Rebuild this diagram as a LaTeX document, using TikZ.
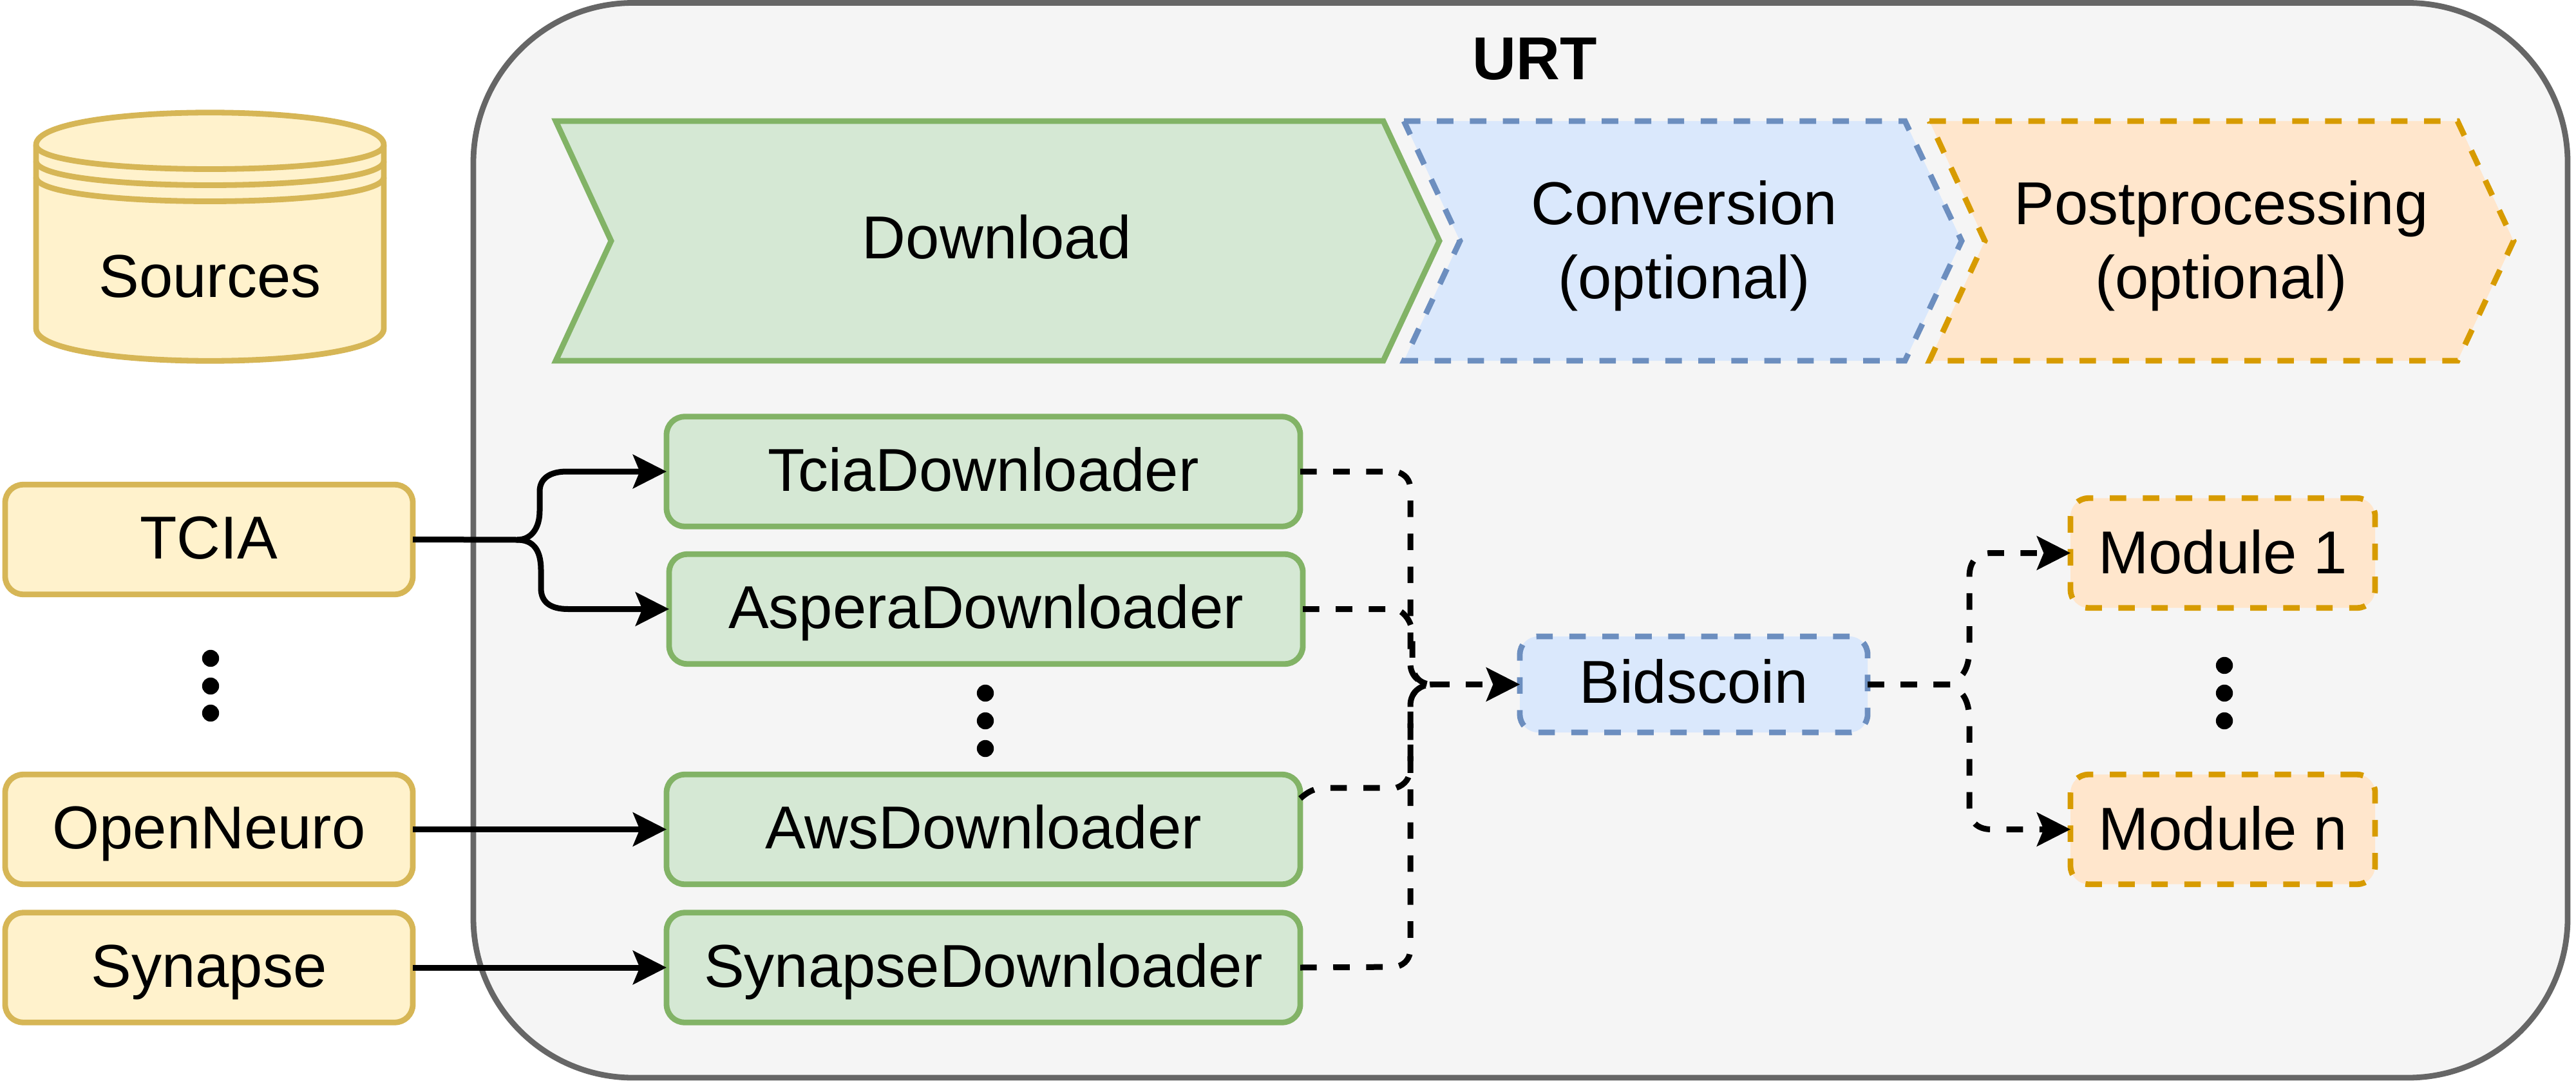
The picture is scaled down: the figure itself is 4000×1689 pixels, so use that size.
\documentclass[tikz,border=0pt]{standalone}
\usepackage{fontspec}
\setmainfont{Liberation Sans}
\usetikzlibrary{arrows.meta}
\definecolor{ylf}{HTML}{FFF2CC}\definecolor{yls}{HTML}{D6B656}
\definecolor{grf}{HTML}{D5E8D4}\definecolor{grs}{HTML}{82B366}
\definecolor{blf}{HTML}{DAE8FC}\definecolor{bls}{HTML}{6C8EBF}
\definecolor{orf}{HTML}{FFE6CC}\definecolor{ors}{HTML}{D79B00}
\definecolor{gyf}{HTML}{F5F5F5}\definecolor{gys}{HTML}{666666}
\tikzset{
 x=0.25pt,y=-0.25pt,
 every node/.style={font=\fontsize{23.5pt}{28.8pt}\selectfont,align=center,inner sep=0pt,outer sep=0pt},
 dsh/.style={dash pattern=on 6.4pt off 6.4pt},
 bx/.style={draw,line width=2.2pt,rounded corners=7pt,minimum height=42.6pt,text height=17pt,text depth=2pt},
 src/.style={bx,fill=ylf,draw=yls,minimum width=158.25pt},
 dl/.style={bx,fill=grf,draw=grs,minimum width=246pt},
 bd/.style={bx,fill=blf,draw=bls,dsh,minimum width=135pt,minimum height=37.25pt,text height=16.5pt,text depth=2.2pt},
 md/.style={bx,fill=orf,draw=ors,dsh,minimum width=118.25pt,text height=18pt,text depth=2pt},
 shp/.style={line width=2.2pt},
 arr/.style={line width=2.25pt,-{Stealth[length=13pt,width=13pt,inset=2.6pt]}},
 arrd/.style={arr,dsh},
 ln/.style={line width=2.25pt},
 lnd/.style={ln,dsh},
 dotm/.style={circle,fill=black,minimum size=6.6pt}
}
\begin{document}
\begin{tikzpicture}
\useasboundingbox (0,0) rectangle (4000,1689);
\draw[fill=gyf,draw=gys,shp,rounded corners=62pt] (735,4.5) rectangle (3987,1673);
\node[font=\fontsize{23.5pt}{29.2pt}\selectfont\bfseries] (urt) at (2383,92) {URT};
% Sources
\draw[fill=ylf,draw=yls,shp] (56,225) .. controls (56,158) and (596,158) .. (596,225) -- (596,510) .. controls (596,577) and (56,577) .. (56,510) -- cycle;
\draw[draw=yls,shp] (56,225) .. controls (56,275) and (596,275) .. (596,225)
 (56,250) .. controls (56,300) and (596,300) .. (596,250)
 (56,275) .. controls (56,325) and (596,325) .. (596,275);
\node[anchor=base] (sources) at (326,462) {Sources};
% chevrons
\draw[fill=grf,draw=grs,shp] (863,188) -- (2148,188) -- (2235,374) -- (2148,560) -- (863,560) -- (949,374) -- cycle;
\node (download) at (1548,368) {Download};
\draw[fill=blf,draw=bls,shp,dsh] (2180,188) -- (2958,188) -- (3046,374) -- (2958,560) -- (2180,560) -- (2267,374) -- cycle;
\node (conv) at (2615,382) {Conversion\\(optional)};
\draw[fill=orf,draw=ors,shp,dsh] (2996,188) -- (3816,188) -- (3903,374) -- (3816,560) -- (2996,560) -- (3082,374) -- cycle;
\node (post) at (3449,382) {Postprocessing\\(optional)};
% sources boxes
\node[src] (tcia) at (324.5,837.5) {TCIA};
\node[src] (open) at (324.5,1287.5) {OpenNeuro};
\node[src] (syn) at (324.5,1502) {Synapse};
% downloaders
\node[dl] (tci) at (1527,732) {TciaDownloader};
\node[dl] (asp) at (1531,945.5) {AsperaDownloader};
\node[dl] (aws) at (1527,1287.5) {AwsDownloader};
\node[dl] (sdl) at (1527,1502) {SynapseDownloader};
\node[bd] (bid) at (2630,1062.5) {Bidscoin};
\node[md] (m1) at (3451.5,858.5) {Module 1};
\node[md] (mn) at (3451.5,1287.5) {Module n};
\foreach \n/\xx/\yy in {a/327/1022,b/327/1065,c/327/1107,d/1530/1076,e/1530/1119,f/1530/1162,g/3454/1033,h/3454/1076,i/3454/1119}{
 \node[dotm] (dot\n) at (\xx,\yy) {};
}
\coordinate (j1) at (803,838);
\coordinate (j2) at (2225,1062.5);
\draw[ln] (tcia.east) -- (j1);
\draw[arr] (j1) .. controls (825,838) and (838,820) .. (838,793) -- (838,763) .. controls (838,742) and (855,732) .. (880,732) -- (tci.west);
\draw[arr] (j1) .. controls (825,838) and (840,850) .. (840,885) -- (840,913) .. controls (840,935) and (855,945.5) .. (882,945.5) -- (asp.west);
\draw[arr] (open.east) -- (aws.west);
\draw[arr] (syn.east) -- (sdl.west);
\draw[lnd] (tci.east) -- (2168,732) .. controls (2182,736) and (2190,745) .. (2190,760) -- (2190,1032) .. controls (2191,1050) and (2205,1062.5) .. (j2);
\draw[lnd] (asp.east) -- (2168,945.5) .. controls (2180,950) and (2193,965) .. (2193,985) -- (2193,1032) .. controls (2194,1050) and (2205,1062.5) .. (j2);
\draw[lnd] ([yshift=12pt]aws.east) .. controls (2030,1230) and (2040,1223) .. (2060,1223) -- (2168,1223) .. controls (2182,1218) and (2190,1208) .. (2190,1190) -- (2190,1095) .. controls (2190,1075) and (2205,1062.5) .. (j2);
\draw[lnd] (sdl.east) -- (2168,1501) .. controls (2182,1497) and (2190,1488) .. (2190,1472) -- (2190,1095) .. controls (2190,1075) and (2205,1062.5) .. (j2);
\draw[arrd] (j2) -- (bid.west);
\draw[arrd] (bid.east) -- (3030,1062.5) .. controls (3050,1050) and (3058,1035) .. (3058,1005) -- (3058,895) .. controls (3058,872) and (3070,858.5) .. (3092,858.5) -- (m1.west);
\draw[arrd] (bid.east) -- (3030,1062.5) .. controls (3050,1075) and (3058,1090) .. (3058,1120) -- (3058,1255) .. controls (3058,1275) and (3070,1287.5) .. (3092,1287.5) -- (mn.west);
\end{tikzpicture}
\end{document}
